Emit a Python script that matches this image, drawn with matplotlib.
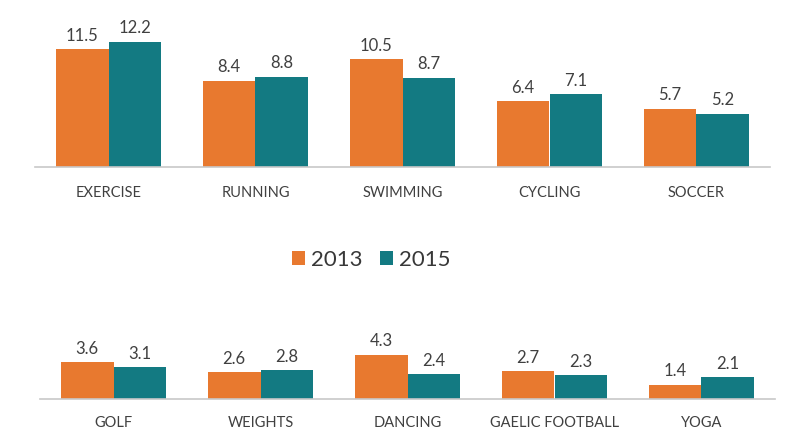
import matplotlib
matplotlib.use('Agg')
import matplotlib.pyplot as plt
import numpy as np

# Data
top_cats = ['EXERCISE', 'RUNNING', 'SWIMMING', 'CYCLING', 'SOCCER']
top_2013 = [11.5, 8.4, 10.5, 6.4, 5.7]
top_2015 = [12.2, 8.8, 8.7, 7.1, 5.2]

bot_cats = ['GOLF', 'WEIGHTS', 'DANCING', 'GAELIC FOOTBALL', 'YOGA']
bot_2013 = [3.6, 2.6, 4.3, 2.7, 1.4]
bot_2015 = [3.1, 2.8, 2.4, 2.3, 2.1]

years = ['2013', '2015']

# Style
c13 = '#E8792F'
c15 = '#137A82'
txt = '#404040'
plt.rcParams['font.family'] = ['Lato', 'DejaVu Sans']

fig = plt.figure(figsize=(8.06, 4.33), dpi=100)
W, H = 806, 433

def panel(left, top, base, cats, v13, v15, pad):
    ax = fig.add_axes([left / W, 1 - base / H, 735 / W, (base - top) / H])
    x = np.arange(len(cats))
    w = 0.36
    b1 = ax.bar(x - w / 2, v13, w, color=c13)
    b2 = ax.bar(x + w / 2, v15, w, color=c15)
    for bars, vals in ((b1, v13), (b2, v15)):
        for b, v in zip(bars, vals):
            ax.annotate('%.1f' % v, (b.get_x() + b.get_width() / 2, b.get_height()),
                        xytext=(0, 4), textcoords='offset points',
                        ha='center', va='bottom', fontsize=12, color=txt)
    ax.set_xlim(-0.5, len(cats) - 0.5)
    ax.set_ylim(0, (base - top) / 10.25)
    ax.set_xticks(x)
    ax.set_xticklabels(cats, fontsize=10.5, color=txt)
    ax.tick_params(axis='x', length=0, pad=pad)
    ax.set_yticks([])
    for s in ['top', 'right', 'left']:
        ax.spines[s].set_visible(False)
    ax.spines['bottom'].set_color('#C8C8C8')
    ax.spines['bottom'].set_linewidth(1.2)
    return b1, b2

b1, b2 = panel(35, 10, 167, top_cats, top_2013, top_2015, 14)
panel(40, 330, 399, bot_cats, bot_2013, bot_2015, 12)

fig.legend([b1, b2], years, loc='center', bbox_to_anchor=(371 / W, 1 - 260 / H),
           ncol=2, frameon=False, fontsize=16, handlelength=0.6, handleheight=0.6,
           handletextpad=0.25, columnspacing=0.8, labelcolor='#383838')

fig.savefig('out.png', dpi=100)
